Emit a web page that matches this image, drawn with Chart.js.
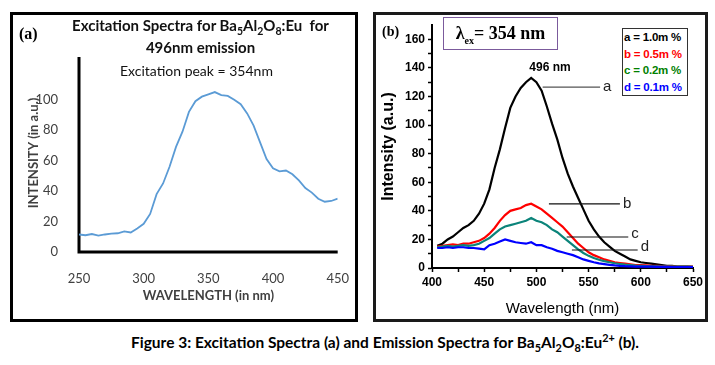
<!DOCTYPE html>
<html>
<head>
<meta charset="utf-8">
<script src="https://cdn.jsdelivr.net/npm/chart.js@4.4.0/dist/chart.umd.min.js"></script>
<style>
  body { margin: 0; background: #fff; }
  #page { position: relative; width: 715px; height: 365px; overflow: hidden; background: #fff; }
  .abs { position: absolute; }
  .panel { position: absolute; box-sizing: border-box; border: 3px solid #000; }
  canvas { position: absolute; left: 0; top: 0; }
  sub, sup { font-size: 0.7em; line-height: 0; }
</style>
</head>
<body>
<div id="page">
  <div class="panel" style="left:10px;top:12px;width:348px;height:310px;"></div>
  <div class="panel" style="left:373px;top:12px;width:335px;height:310px;border-color:#1a1a1a;"></div>

  <div class="abs" style="left:0;top:0;width:360px;height:330px;"><canvas id="chartA" width="360" height="330"></canvas></div>
  <div class="abs" style="left:360px;top:0;width:355px;height:330px;"><canvas id="chartB" width="355" height="330"></canvas></div>

  <div class="abs" style="left:19px;top:25px;font:bold 16px 'Liberation Serif';">(a)</div>
  <div class="abs" style="left:58px;top:14px;width:285px;text-align:center;font:bold 15px Lato;line-height:22px;color:#111;">
    Excitation Spectra for Ba<sub>5</sub>Al<sub>2</sub>O<sub>8</sub>:Eu&nbsp; for<br>496nm emission
  </div>
  <div class="abs" style="left:120px;top:62px;font:14px Lato;color:#111;">Excitation peak = 354nm</div>

  <div class="abs" style="left:382px;top:24px;font:bold 14px 'Liberation Serif';">(b)</div>
  <div class="abs" style="left:443px;top:17px;width:115px;height:33px;box-sizing:border-box;border:1.5px solid #7b5a9c;text-align:center;font:bold 18px 'Liberation Serif';line-height:30px;white-space:nowrap;">
    &lambda;<sub style="font-size:10px;">ex</sub>= 354 nm
  </div>
  <div class="abs" style="left:622px;top:28px;width:66px;height:68px;box-sizing:border-box;border:1px solid #333;background:#fff;font:bold 11.5px 'Liberation Sans';line-height:16.5px;padding-left:1px;white-space:nowrap;letter-spacing:-0.2px;">
    <div style="color:#000;">a = 1.0m %</div>
    <div style="color:#ff0000;">b = 0.5m %</div>
    <div style="color:#008000;">c = 0.2m %</div>
    <div style="color:#0000ff;">d = 0.1m %</div>
  </div>

  <div id="caption" class="abs" style="left:0;top:333px;width:770px;text-align:center;font:bold 15.5px Lato;color:#000;white-space:nowrap;">
    Figure 3: Excitation Spectra (a) and Emission Spectra for Ba<sub>5</sub>Al<sub>2</sub>O<sub>8</sub>:Eu<sup>2+</sup> (b).
  </div>
</div>

<script>
// (a) excitation spectrum, 250-450 nm every 5 nm
const wlA = [250, 255, 260, 265, 270, 275, 280, 285, 290, 295, 300, 305, 310, 315, 320, 325, 330, 335, 340, 345,
             350, 355, 360, 365, 370, 375, 380, 385, 390, 395, 400, 405, 410, 415, 420, 425, 430, 435, 440, 445, 450];
const intensityA = [11.5, 11, 11.8, 10.8, 11.5, 12, 12.3, 13.5, 12.8, 15.5, 18.5, 25, 38, 45, 56, 69, 79, 92, 99, 102,
                    103.5, 105, 103, 102.5, 100, 97, 91, 83, 72, 61, 55, 53, 53.5, 51, 47, 42, 39, 35, 33, 33.5, 35];
const yTicksA = [0, 20, 40, 60, 80, 100];
// ends of the two heavy axes of (a): top of the value axis, origin, end of the wavelength axis
const axisCornerX = [250, 250, 450];
const axisCornerY = [128, 0, 0];

// (b) emission spectra, 405-650 nm every 5 nm
const wlB = [405, 410, 415, 420, 425, 430, 435, 440, 445, 450, 455, 460, 465, 470, 475, 480, 485, 490, 495, 500,
             505, 510, 515, 520, 525, 530, 535, 540, 545, 550, 555, 560, 565, 570, 575, 580, 585, 590, 595, 600,
             605, 610, 615, 620, 625, 630, 635, 640, 645, 650];
const curveA = [15.5, 17, 20, 22, 25, 28, 30, 33, 38, 45, 55, 70, 83, 98, 112, 120, 126, 130, 133, 130,
                124, 113, 101, 90, 77, 66, 57, 49, 41, 33, 27, 22, 18, 15, 12, 10, 8, 6, 5, 4,
                3.5, 3, 2.5, 2, 1.5, 1.5, 1, 1, 1, 0.8];
const curveB = [15, 15.5, 16, 16.5, 16, 17, 17, 18, 19, 21, 24, 28, 33, 37, 40, 41, 42, 44, 45, 43,
                41, 38, 35, 32, 29, 25, 21, 17, 14, 11, 9, 7.5, 6, 5, 4, 3.5, 3, 2.5, 2, 2,
                1.8, 1.5, 1.5, 1.3, 1.2, 1.2, 1, 1, 1, 1];
const curveC = [14.5, 15, 15.5, 15, 15.5, 16, 15.5, 16, 17, 19, 21, 24, 27, 29, 30, 31, 32, 33, 35, 33,
                32, 30, 27, 25, 22, 19, 16, 13, 10.5, 8.5, 7, 5.8, 4.8, 4, 3.3, 2.8, 2.3, 2, 1.7, 1.5,
                1.3, 1.2, 1.1, 1, 1, 1, 0.9, 0.9, 0.9, 0.8];
const curveD = [14, 14, 14.5, 14, 14.5, 14.5, 14, 14, 13.5, 13, 16, 17, 18.5, 20, 19, 18, 17.5, 17, 18, 16,
                16, 14.5, 13.5, 12, 11, 10, 9, 7.5, 6, 5, 4, 3.2, 2.7, 2.2, 1.8, 1.5, 1.3, 1.2, 1, 1,
                0.9, 0.9, 0.8, 0.8, 0.8, 0.7, 0.7, 0.7, 0.7, 0.7];

// leader lines in (b): label, intensity level, start and end wavelength
const noteLabels = ['a', 'b', 'c', 'd'];
const noteLevel = [126.5, 44.8, 21.7, 12.6];
const noteFrom = [506, 512, 529, 534];
const noteTo = [561, 580, 588, 597];
const peakText = '496 nm';
const peakPos = [513, 140];

function toPoints(xs, ys) {
    return xs.map((x, i) => ({ x: x, y: ys[i] }));
}

// chart (a)
const chartA = new Chart(document.getElementById('chartA'), {
    type: 'line',
    data: {
        datasets: [
            {
                data: toPoints(wlA, intensityA),
                borderColor: '#5b9bd5',
                borderWidth: 1.8,
                pointRadius: 0,
                tension: 0
            },
            {
                // the L-shaped axes
                data: toPoints(axisCornerX, axisCornerY),
                borderColor: '#000',
                borderWidth: 3,
                pointRadius: 0,
                tension: 0,
                clip: false
            }
        ]
    },
    options: {
        responsive: false,
        animation: false,
        events: [],
        layout: { padding: { left: 26, right: 22, top: 54, bottom: 20 } },
        plugins: { legend: { display: false }, tooltip: { enabled: false } },
        scales: {
            x: {
                type: 'linear', min: 250, max: 450,
                ticks: { stepSize: 50, color: '#404040', font: { family: 'Lato', size: 13 }, padding: 11, maxRotation: 0 },
                grid: { display: false },
                border: { display: false },
                title: { display: true, text: 'WAVELENGTH (in nm)', color: '#404040', font: { family: 'Lato', size: 13, weight: 'bold' }, padding: { top: 0, bottom: 6 } },
                afterFit: s => { s.height = 58; }
            },
            y: {
                min: 0, max: 130,
                afterBuildTicks: s => { s.ticks = yTicksA.map(v => ({ value: v })); },
                ticks: { color: '#404040', font: { family: 'Lato', size: 13 }, padding: 13 },
                grid: { display: false },
                border: { display: false },
                title: { display: true, text: 'INTENSITY (in a.u.)', color: '#404040', font: { family: 'Lato', size: 13, weight: 'bold' }, padding: { top: 0, bottom: 0 } },
                afterFit: s => { s.width = 53; }
            }
        }
    }
});

// leader lines and peak label for (b)
const notesPlugin = {
    id: 'notes',
    afterDatasetsDraw(chart) {
        const ctx = chart.ctx;
        const xs = chart.scales.x, ys = chart.scales.y;
        ctx.save();
        noteLabels.forEach((lab, i) => {
            const y = ys.getPixelForValue(noteLevel[i]);
            const x0 = xs.getPixelForValue(noteFrom[i]);
            const x1 = xs.getPixelForValue(noteTo[i]);
            ctx.strokeStyle = i === 0 ? '#555' : '#111';
            ctx.lineWidth = 1.2;
            ctx.beginPath();
            ctx.moveTo(x0, y);
            ctx.lineTo(x1, y);
            ctx.stroke();
            ctx.fillStyle = '#222';
            ctx.font = '15px "Liberation Sans"';
            ctx.textAlign = 'left';
            ctx.textBaseline = 'middle';
            ctx.fillText(lab, x1 + 3, y - (i >= 2 ? 3 : 0));
        });
        ctx.fillStyle = '#000';
        ctx.font = 'bold 12px "Liberation Sans"';
        ctx.textAlign = 'center';
        ctx.fillText(peakText, xs.getPixelForValue(peakPos[0]), ys.getPixelForValue(peakPos[1]));
        ctx.restore();
    }
};

// chart (b)
new Chart(document.getElementById('chartB'), {
    type: 'line',
    data: {
        datasets: [
            { label: 'd', data: toPoints(wlB, curveD), borderColor: '#0000ff' },
            { label: 'c', data: toPoints(wlB, curveC), borderColor: '#0b847a' },
            { label: 'b', data: toPoints(wlB, curveB), borderColor: '#ff0000' },
            { label: 'a', data: toPoints(wlB, curveA), borderColor: '#000000' }
        ].map(d => Object.assign(d, { borderWidth: 2.2, pointRadius: 0, tension: 0 }))
    },
    options: {
        responsive: false,
        animation: false,
        events: [],
        layout: { padding: { left: 19, right: 22, top: 25, bottom: 8 } },
        plugins: { legend: { display: false }, tooltip: { enabled: false } },
        scales: {
            x: {
                type: 'linear', min: 400, max: 650,
                ticks: {
                    stepSize: 25, color: '#000', font: { family: 'Liberation Sans', size: 12, weight: 'bold' }, padding: 3, maxRotation: 0,
                    autoSkip: false,
                    callback: v => (v % 50 === 0 ? v : '')
                },
                grid: { display: true, drawOnChartArea: false, drawTicks: true, tickLength: 4, color: '#000', tickWidth: 1.5 },
                border: { display: true, color: '#000', width: 2 },
                title: { display: true, text: 'Wavelength (nm)', color: '#000', font: { family: 'Liberation Sans', size: 15 }, padding: { top: 0, bottom: 4 } },
                afterFit: s => { s.height = 54; }
            },
            y: {
                min: 0, max: 170,
                ticks: {
                    stepSize: 10, color: '#000', font: { family: 'Liberation Sans', size: 12, weight: 'bold' }, padding: 3,
                    autoSkip: false,
                    callback: v => (v % 20 === 0 && v <= 160 ? v : '')
                },
                afterBuildTicks: s => { s.ticks = s.ticks.filter(t => t.value <= 160); },
                grid: { display: true, drawOnChartArea: false, drawTicks: true, tickLength: 4, color: '#000', tickWidth: 1.5 },
                border: { display: true, color: '#000', width: 2 },
                title: { display: true, text: 'Intensity (a.u.)', color: '#000', font: { family: 'Liberation Sans', size: 16, weight: 'bold' }, padding: { top: 0, bottom: 0 } },
                afterFit: s => { s.width = 53; }
            }
        }
    },
    plugins: [notesPlugin]
});
</script>
</body>
</html>
